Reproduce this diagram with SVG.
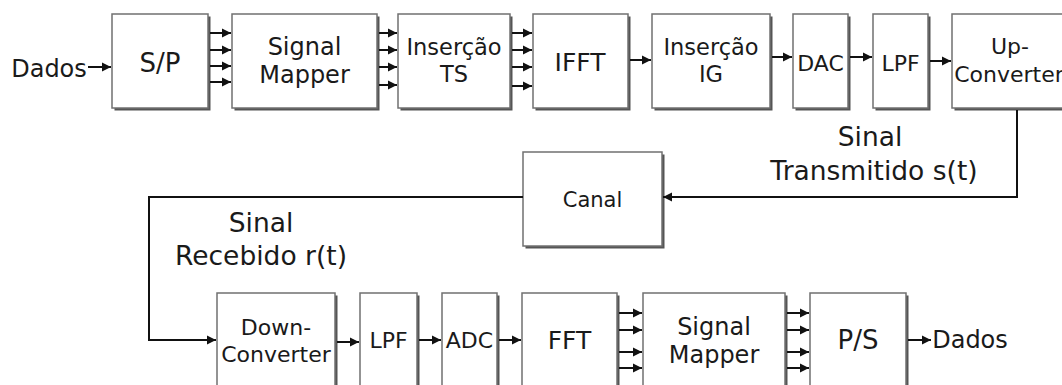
<svg xmlns="http://www.w3.org/2000/svg" width="1062" height="385" viewBox="0 0 1062 385">
<defs>
<marker id="ah" markerUnits="userSpaceOnUse" markerWidth="10" markerHeight="11" refX="9" refY="5" orient="auto"><path d="M0,0.5 L9,5 L0,9.5 z" fill="#111"/></marker>
</defs>
<style>
.sh{fill:#555}
.bx{fill:#fff;stroke:#707070;stroke-width:1.5}
.t{font-family:"DejaVu Sans",Verdana,sans-serif;fill:#1a1a1a;text-anchor:middle}
.a{fill:none;stroke:#111;stroke-width:2;marker-end:url(#ah)}
</style>
<rect width="1062" height="385" fill="#fff"/>
<g id="lbl-dados-in"><text class="t" x="49" y="77" font-size="24">Dados</text></g>
<g id="sp"><rect class="sh" x="114.5" y="16.5" width="96" height="94"/><rect class="bx" x="112" y="14" width="96" height="94"/><text class="t" x="160" y="72" font-size="26">S/P</text></g>
<g id="mapper-tx"><rect class="sh" x="234.5" y="16.5" width="145" height="94"/><rect class="bx" x="232" y="14" width="145" height="94"/><text class="t" x="304.5" y="55" font-size="24">Signal</text><text class="t" x="304.5" y="83" font-size="24">Mapper</text></g>
<g id="ins-ts"><rect class="sh" x="400.5" y="16.5" width="112" height="94"/><rect class="bx" x="398" y="14" width="112" height="94"/><text class="t" x="454" y="55" font-size="22.5">Inserção</text><text class="t" x="454" y="82" font-size="22.5">TS</text></g>
<g id="ifft"><rect class="sh" x="535.5" y="16.5" width="95" height="94"/><rect class="bx" x="533" y="14" width="95" height="94"/><text class="t" x="580" y="71" font-size="25">IFFT</text></g>
<g id="ins-ig"><rect class="sh" x="654.5" y="16.5" width="118" height="94"/><rect class="bx" x="652" y="14" width="118" height="94"/><text class="t" x="711" y="55" font-size="22.5">Inserção</text><text class="t" x="711" y="82" font-size="22.5">IG</text></g>
<g id="dac"><rect class="sh" x="795.5" y="16.5" width="55" height="94"/><rect class="bx" x="793" y="14" width="55" height="94"/><text class="t" x="820.5" y="71" font-size="22">DAC</text></g>
<g id="lpf-tx"><rect class="sh" x="875.5" y="16.5" width="55" height="94"/><rect class="bx" x="873" y="14" width="55" height="94"/><text class="t" x="900.5" y="71" font-size="22">LPF</text></g>
<g id="upconv"><rect class="sh" x="954.5" y="16.5" width="116" height="94"/><rect class="bx" x="952" y="14" width="116" height="94"/><text class="t" x="1010" y="54" font-size="22">Up-</text><text class="t" x="1009" y="82" font-size="22">Converter</text></g>
<g id="canal"><rect class="sh" x="525.5" y="154.5" width="139" height="94"/><rect class="bx" x="523" y="152" width="139" height="94"/><text class="t" x="592.5" y="207" font-size="21">Canal</text></g>
<g id="downconv"><rect class="sh" x="219.5" y="295.5" width="118" height="94"/><rect class="bx" x="217" y="293" width="118" height="94"/><text class="t" x="276" y="335" font-size="22">Down-</text><text class="t" x="276" y="362" font-size="22">Converter</text></g>
<g id="lpf-rx"><rect class="sh" x="362.5" y="295.5" width="57" height="94"/><rect class="bx" x="360" y="293" width="57" height="94"/><text class="t" x="388.5" y="348" font-size="22">LPF</text></g>
<g id="adc"><rect class="sh" x="444.5" y="295.5" width="55" height="94"/><rect class="bx" x="442" y="293" width="55" height="94"/><text class="t" x="469.5" y="348" font-size="22">ADC</text></g>
<g id="fft"><rect class="sh" x="524.5" y="295.5" width="95" height="94"/><rect class="bx" x="522" y="293" width="95" height="94"/><text class="t" x="569.5" y="349" font-size="25">FFT</text></g>
<g id="mapper-rx"><rect class="sh" x="645.5" y="295.5" width="142" height="94"/><rect class="bx" x="643" y="293" width="142" height="94"/><text class="t" x="714" y="335" font-size="24">Signal</text><text class="t" x="714" y="363" font-size="24">Mapper</text></g>
<g id="ps"><rect class="sh" x="812.5" y="295.5" width="96" height="94"/><rect class="bx" x="810" y="293" width="96" height="94"/><text class="t" x="858" y="349" font-size="26">P/S</text></g>
<g id="lbl-dados-out"><text class="t" x="970" y="348" font-size="24">Dados</text></g>
<g id="lbl-tx"><text class="t" x="870" y="146" font-size="26.5">Sinal</text><text class="t" x="874" y="180" font-size="26.5">Transmitido s(t)</text></g>
<g id="lbl-rx"><text class="t" x="261" y="232" font-size="26.5">Sinal</text><text class="t" x="261" y="265" font-size="26.5">Recebido r(t)</text></g>
<g id="connectors">
<path class="a" d="M88,67 H111"/>
<path class="a" d="M210,33 H231"/><path class="a" d="M210,50 H231"/><path class="a" d="M210,66 H231"/><path class="a" d="M210,82 H231"/>
<path class="a" d="M379,33 H397"/><path class="a" d="M379,50 H397"/><path class="a" d="M379,67 H397"/><path class="a" d="M379,85 H397"/>
<path class="a" d="M512,33 H532"/><path class="a" d="M512,50 H532"/><path class="a" d="M512,67 H532"/><path class="a" d="M512,86 H532"/>
<path class="a" d="M630,60 H651"/>
<path class="a" d="M772,57 H792"/>
<path class="a" d="M850,57 H872"/>
<path class="a" d="M930,61 H951"/>
<path class="a" d="M1017,110 V197 H663"/>
<path class="a" d="M523,197 H149 V340 H216"/>
<path class="a" d="M337,342 H359"/>
<path class="a" d="M419,340 H441"/>
<path class="a" d="M499,340 H521"/>
<path class="a" d="M619,313 H642"/><path class="a" d="M619,330 H642"/><path class="a" d="M619,352 H642"/><path class="a" d="M619,368 H642"/>
<path class="a" d="M787,313 H809"/><path class="a" d="M787,330 H809"/><path class="a" d="M787,352 H809"/><path class="a" d="M787,368 H809"/>
<path class="a" d="M908,340 H931"/>
</g>
</svg>
